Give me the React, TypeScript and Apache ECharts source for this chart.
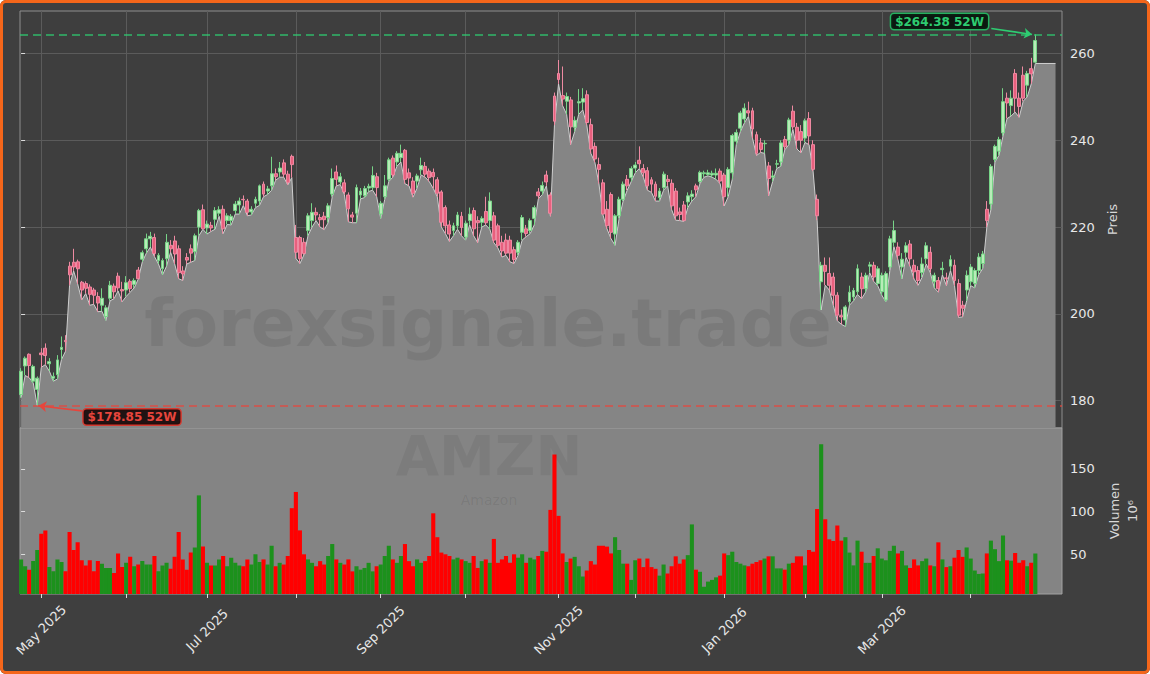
import React, { useEffect, useRef } from 'react';
import * as echarts from 'echarts';

// ---------- calendar ----------
const START_DATE = '2025-04-24';
const END_DATE = '2026-04-24';
const HOLIDAYS = ['2025-05-26', '2025-06-19', '2025-07-04', '2025-09-01', '2025-11-27', '2025-12-25', '2026-01-01', '2026-01-19', '2026-02-16', '2026-04-03'];
const MONTH_NAMES = ['Jan', 'Feb', 'Mar', 'Apr', 'May', 'Jun', 'Jul', 'Aug', 'Sep', 'Oct', 'Nov', 'Dec'];

function tradingDays(): string[] {
  const out: string[] = [];
  const d = new Date(START_DATE + 'T00:00:00Z');
  const end = new Date(END_DATE + 'T00:00:00Z');
  while (d <= end) {
    const wd = d.getUTCDay();
    const s = d.toISOString().slice(0, 10);
    if (wd !== 0 && wd !== 6 && HOLIDAYS.indexOf(s) < 0) out.push(s);
    d.setUTCDate(d.getUTCDate() + 1);
  }
  return out;
}
const DATES = tradingDays();

// ---------- prices (USD) ----------
const OPEN = [
  181.4, 188.0, 190.7, 184.5, 182.6, 191.0, 192.1, 188.5, 185.2, 186.0,
  191.8, 193.9, 211.0, 211.9, 212.0, 207.3, 207.0, 206.2, 205.5, 204.0,
  202.0, 199.4, 203.6, 206.4, 208.7, 205.6, 205.5, 207.5, 206.8, 210.1,
  212.6, 215.0, 217.3, 217.6, 212.3, 210.4, 212.7, 215.8, 216.8, 215.0,
  209.9, 213.0, 215.0, 214.3, 220.0, 224.0, 219.8, 220.4, 221.8, 223.2,
  224.1, 221.5, 221.5, 223.8, 225.1, 226.4, 226.0, 223.5, 225.5, 226.0,
  229.9, 228.3, 229.5, 232.3, 232.7, 234.8, 232.2, 236.3, 217.6, 217.6,
  216.5, 219.2, 221.5, 223.4, 222.2, 222.5, 222.2, 227.6, 232.7, 230.4,
  230.2, 227.4, 222.8, 223.2, 227.4, 227.2, 229.0, 229.1, 231.6, 223.0,
  227.0, 231.0, 235.9, 235.0, 236.0, 237.7, 232.5, 230.6, 230.6, 233.2,
  234.0, 232.9, 232.6, 230.9, 228.1, 224.5, 220.5, 219.2, 220.3, 222.5,
  217.7, 221.5, 223.8, 221.5, 221.1, 223.6, 221.5, 222.6, 220.3, 216.5,
  217.0, 217.0, 214.8, 214.2, 218.8, 219.6, 219.2, 222.0, 228.1, 228.3,
  232.0, 227.4, 250.2, 255.4, 250.3, 249.0, 249.3, 243.0, 248.6, 248.8,
  250.5, 243.6, 238.6, 234.4, 230.2, 224.1, 227.5, 218.4, 222.6, 226.4,
  231.0, 231.4, 233.6, 235.4, 233.5, 233.0, 230.9, 229.9, 226.8, 229.1,
  231.0, 230.1, 228.3, 223.5, 225.1, 225.8, 227.0, 229.5, 230.5, 232.3,
  232.1, 232.0, 232.0, 232.9, 232.0, 229.1, 232.5, 239.8, 242.8, 244.9,
  246.8, 246.8, 241.3, 239.4, 239.2, 234.1, 231.5, 234.5, 235.0, 240.2,
  240.0, 246.7, 243.0, 242.0, 240.5, 245.0, 239.0, 226.4, 207.4, 211.2,
  209.3, 208.5, 204.3, 199.6, 198.6, 202.8, 203.9, 205.1, 208.5, 205.8,
  211.0, 211.2, 207.0, 205.1, 203.2, 210.8, 216.5, 215.4, 210.8, 214.2,
  216.1, 211.2, 210.0, 209.5, 212.7, 214.2, 207.4, 207.7, 210.2, 208.3,
  211.0, 211.2, 207.0, 202.0, 205.5, 207.4, 207.0, 210.0, 211.6, 224.1,
  225.3, 235.6, 237.5, 241.7, 249.7, 248.0, 255.4, 249.7, 255.0, 252.7,
  256.5, 258.0,
];
const HIGH = [
  187.5, 190.2, 190.9, 188.3, 185.6, 192.1, 193.2, 189.8, 186.5, 190.5,
  194.8, 195.1, 212.0, 215.0, 212.5, 207.6, 207.5, 206.8, 206.0, 205.0,
  205.9, 202.0, 207.6, 207.0, 209.5, 207.4, 208.7, 208.0, 208.2, 210.8,
  214.6, 218.5, 218.9, 218.5, 214.0, 212.8, 218.4, 217.0, 218.0, 215.8,
  211.0, 214.0, 216.0, 218.5, 224.2, 225.2, 221.5, 221.2, 224.6, 224.8,
  225.0, 223.2, 223.0, 226.0, 226.8, 227.3, 226.5, 224.8, 227.0, 229.8,
  230.5, 229.5, 236.2, 233.5, 235.0, 235.6, 233.0, 236.7, 220.5, 218.0,
  217.5, 223.2, 225.5, 224.5, 223.0, 223.5, 225.5, 233.5, 234.2, 232.5,
  231.0, 228.0, 223.5, 229.8, 229.0, 229.5, 230.0, 234.0, 232.5, 226.0,
  232.0, 236.0, 236.5, 237.5, 239.0, 238.0, 233.5, 231.5, 232.3, 236.0,
  235.0, 233.5, 233.5, 231.5, 228.5, 225.0, 221.5, 221.0, 223.5, 223.5,
  221.5, 224.5, 224.5, 222.5, 222.5, 227.0, 228.0, 223.5, 220.8, 218.0,
  218.5, 218.0, 215.5, 217.0, 222.8, 220.5, 222.0, 225.0, 229.0, 230.5,
  233.0, 228.0, 251.0, 258.5, 257.0, 251.0, 250.0, 245.5, 251.8, 252.0,
  251.5, 245.0, 239.5, 236.0, 231.0, 226.0, 228.0, 223.0, 227.0, 230.5,
  232.0, 234.0, 235.0, 238.6, 234.5, 233.8, 231.5, 230.5, 229.0, 232.8,
  232.0, 231.0, 229.0, 224.5, 226.0, 228.0, 228.5, 230.0, 233.0, 233.0,
  233.2, 233.0, 233.5, 233.5, 232.5, 233.8, 241.5, 242.5, 246.8, 248.5,
  248.9, 247.5, 242.0, 240.5, 240.0, 235.0, 233.0, 235.5, 240.0, 241.0,
  245.2, 248.0, 244.0, 243.5, 245.0, 246.5, 240.0, 227.5, 212.0, 213.0,
  213.0, 209.5, 205.0, 201.0, 202.0, 206.5, 206.0, 211.4, 209.5, 209.5,
  212.0, 212.0, 211.0, 209.5, 209.8, 218.0, 221.5, 216.5, 214.0, 216.5,
  217.0, 212.5, 211.0, 213.0, 216.5, 215.5, 209.5, 208.5, 212.0, 209.5,
  213.5, 212.5, 208.0, 203.0, 210.0, 211.5, 210.5, 214.0, 214.5, 226.0,
  234.5, 239.0, 240.8, 252.0, 251.0, 251.5, 256.4, 251.0, 257.0, 256.0,
  259.0, 264.38,
];
const LOW = [
  180.7, 185.8, 185.3, 184.1, 178.85, 187.7, 188.3, 186.8, 184.5, 185.0,
  189.5, 191.4, 206.6, 209.9, 206.9, 203.2, 204.7, 202.0, 202.2, 200.5,
  200.6, 198.5, 203.0, 203.5, 205.3, 202.8, 204.0, 205.0, 206.0, 208.0,
  212.0, 214.0, 215.4, 213.2, 211.5, 209.0, 211.0, 214.2, 211.5, 208.1,
  207.7, 211.5, 211.9, 212.3, 218.0, 219.5, 218.4, 219.0, 219.5, 222.5,
  218.5, 220.6, 220.5, 223.0, 223.0, 225.0, 222.6, 222.8, 224.5, 225.0,
  227.0, 227.5, 228.5, 230.8, 231.5, 231.5, 229.7, 231.4, 212.8, 211.6,
  213.6, 218.0, 220.0, 221.5, 220.0, 219.4, 221.0, 227.0, 229.5, 229.8,
  227.5, 221.2, 221.0, 221.0, 226.5, 226.8, 228.2, 228.5, 227.0, 222.0,
  226.4, 230.5, 231.5, 234.0, 235.0, 230.0, 229.5, 226.9, 229.0, 232.0,
  231.5, 230.5, 228.9, 227.0, 220.0, 218.5, 216.7, 218.0, 219.5, 218.0,
  217.0, 220.5, 218.0, 216.4, 220.0, 220.5, 219.5, 216.4, 215.2, 213.1,
  213.5, 212.0, 211.6, 213.5, 217.0, 217.8, 218.5, 220.5, 226.5, 227.5,
  229.5, 222.5, 243.5, 253.0, 248.0, 246.0, 239.0, 242.0, 246.0, 247.0,
  243.5, 237.0, 234.9, 230.0, 222.8, 219.6, 217.3, 215.8, 222.0, 226.0,
  228.5, 230.5, 232.5, 233.5, 231.5, 228.5, 228.0, 226.0, 226.0, 228.5,
  229.5, 224.0, 221.6, 221.5, 221.3, 224.5, 226.0, 227.0, 230.0, 231.5,
  231.8, 231.5, 231.0, 230.0, 224.9, 227.0, 231.0, 239.0, 242.0, 244.0,
  245.5, 240.5, 236.5, 237.2, 237.0, 227.2, 230.5, 233.5, 234.0, 237.8,
  239.0, 242.5, 238.0, 237.1, 239.5, 239.0, 232.9, 221.6, 200.9, 206.6,
  205.5, 202.0, 198.4, 197.6, 197.1, 202.0, 203.0, 204.5, 203.5, 205.0,
  209.5, 207.5, 206.5, 204.3, 202.8, 210.0, 215.5, 212.5, 208.1, 213.0,
  211.0, 208.0, 206.6, 208.5, 211.5, 209.5, 206.0, 205.0, 209.0, 206.5,
  210.0, 206.5, 199.2, 199.3, 203.0, 206.5, 206.0, 209.0, 210.5, 220.0,
  224.0, 235.0, 236.5, 241.0, 245.0, 245.6, 246.5, 245.3, 249.0, 250.0,
  253.0, 257.7,
];
const CLOSE = [
  186.8, 189.8, 188.1, 187.9, 185.2, 190.6, 190.4, 189.0, 185.6, 189.4,
  192.3, 193.6, 209.0, 210.8, 210.4, 205.5, 205.9, 204.5, 204.3, 202.5,
  203.6, 201.4, 206.6, 205.1, 206.0, 205.3, 207.2, 205.8, 207.7, 208.1,
  214.1, 217.3, 217.9, 213.9, 213.5, 212.3, 216.5, 215.0, 213.8, 209.5,
  209.2, 212.4, 214.0, 218.0, 223.8, 219.6, 220.7, 219.8, 223.8, 224.0,
  219.6, 222.6, 222.5, 225.3, 226.0, 226.3, 223.4, 224.1, 226.4, 229.5,
  227.6, 228.8, 232.3, 231.6, 233.6, 232.2, 230.3, 234.4, 214.2, 212.7,
  213.9, 222.6, 223.4, 222.8, 221.7, 221.7, 224.9, 231.2, 231.0, 231.6,
  228.1, 224.2, 222.3, 229.1, 228.3, 228.9, 229.4, 231.9, 229.1, 225.5,
  229.5, 235.5, 232.0, 237.0, 237.0, 231.0, 231.3, 227.8, 231.8, 234.2,
  232.2, 231.4, 231.6, 227.8, 221.1, 220.3, 218.4, 220.3, 222.8, 219.9,
  220.9, 223.0, 219.6, 221.0, 222.0, 221.0, 226.0, 217.0, 215.8, 214.5,
  214.0, 214.0, 212.5, 216.5, 222.2, 218.5, 221.5, 224.5, 227.2, 229.6,
  230.4, 223.2, 244.4, 254.0, 249.5, 250.1, 243.1, 244.6, 248.9, 249.6,
  244.1, 238.0, 235.7, 233.3, 223.0, 220.3, 218.8, 222.6, 226.4, 229.9,
  229.5, 233.5, 234.3, 234.6, 232.5, 229.5, 229.9, 227.1, 228.3, 232.2,
  230.5, 224.9, 222.6, 222.9, 221.5, 227.2, 227.6, 228.6, 232.6, 232.5,
  232.5, 232.4, 232.4, 230.6, 227.0, 233.3, 241.1, 241.8, 246.3, 247.4,
  246.3, 242.6, 237.0, 237.9, 239.3, 231.2, 231.8, 234.6, 239.4, 238.5,
  244.7, 243.1, 240.0, 240.0, 244.5, 241.0, 233.3, 222.6, 211.2, 209.8,
  206.6, 204.3, 199.7, 199.3, 201.6, 205.0, 205.4, 210.4, 205.8, 208.9,
  211.3, 208.5, 210.4, 208.9, 209.3, 217.3, 219.2, 213.5, 212.6, 215.7,
  212.7, 209.7, 207.7, 211.5, 215.7, 210.4, 208.9, 205.8, 210.5, 208.1,
  212.5, 207.7, 199.7, 201.3, 208.9, 210.8, 210.0, 213.1, 213.8, 221.5,
  234.0, 238.6, 240.2, 248.9, 248.6, 249.7, 249.7, 247.8, 249.7, 255.4,
  255.3, 263.0,
];
// volume in millions of shares
const VOLUME = [
  44, 36, 32, 42, 55, 74, 78, 35, 30, 44,
  41, 30, 76, 55, 64, 43, 37, 43, 30, 42,
  39, 34, 34, 28, 51, 35, 40, 47, 36, 38,
  42, 38, 38, 48, 30, 37, 40, 33, 47, 76,
  44, 32, 52, 58, 119, 59, 40, 37, 37, 44,
  48, 36, 46, 40, 37, 36, 44, 38, 50, 41,
  44, 38, 60, 36, 40, 38, 48, 104, 123, 78,
  50, 44, 40, 36, 42, 38, 48, 62, 44, 40,
  38, 44, 30, 36, 32, 34, 40, 30, 36, 38,
  48, 60, 44, 40, 48, 62, 42, 36, 44, 40,
  42, 48, 98, 70, 52, 50, 48, 44, 46, 44,
  42, 40, 48, 34, 42, 44, 40, 68, 40, 44,
  48, 40, 50, 46, 50, 40, 46, 44, 48, 54,
  53, 102, 167, 95, 51, 41, 45, 47, 36, 24,
  31, 42, 38, 60, 60, 59, 51, 70, 55, 39,
  39, 20, 43, 45, 35, 45, 35, 33, 25, 38,
  27.5, 36, 47.6, 39, 44, 49, 85, 32, 29.5, 12,
  18, 20, 23, 25, 51, 49, 53, 41, 39, 37,
  36, 39, 41, 43, 45, 47.6, 47.6, 33.5, 33.5, 32,
  39, 40, 47.6, 47.6, 37, 55, 53, 103, 179, 91,
  67.5, 65.6, 83.7, 66, 70, 52, 37, 66, 53, 40,
  40, 48, 57, 45, 43, 54, 60, 51, 54, 37,
  34, 44, 37, 42, 45, 37, 36, 64, 44, 35,
  36, 46, 55, 47, 58, 45, 31, 27, 27.5, 51,
  66, 56, 42, 72, 43, 42.5, 51.5, 40, 43, 36,
  40, 51,
];
const PRICE_TICKS = [180, 200, 220, 240, 260];
const VOLUME_TICKS = [50, 100, 150];
const TICKER = 'AMZN';
const COMPANY = 'Amazon';
const WATERMARK = 'forexsignale.trade';

// ---------- derived ----------
const N = DATES.length;
const FONT = '"DejaVu Sans", "Liberation Sans", sans-serif';
const monthStarts: number[] = [];
DATES.forEach((d, i) => {
  if (i > 0 && d.slice(5, 7) !== DATES[i - 1].slice(5, 7)) monthStarts.push(i);
});
const labelStarts = monthStarts.filter((i) => parseInt(DATES[i].slice(5, 7), 10) % 2 === 1);
const fmtDate = (v: number) => {
  const d = DATES[Math.round(v)];
  if (!d) return '';
  return MONTH_NAMES[parseInt(d.slice(5, 7), 10) - 1] + ' ' + d.slice(0, 4);
};
let hiIdx = 0;
let loIdx = 0;
for (let i = 0; i < N; i++) {
  if (HIGH[i] > HIGH[hiIdx]) hiIdx = i;
  if (LOW[i] < LOW[loIdx]) loIdx = i;
}
const HI = HIGH[hiIdx];
const LO = LOW[loIdx];

const candleData = OPEN.map((o, i) => [i, o, CLOSE[i], LOW[i], HIGH[i]]);
const areaData: number[][] = LOW.map((l, i) => [i, l]);
areaData.push([N + 4, LOW[N - 1]]);
const volData = VOLUME.map((v, i) => ({
  value: [i, v],
  itemStyle: { color: CLOSE[i] >= OPEN[i] ? '#1c911c' : '#ff0000' },
}));

const GREEN = '#2ecc71';
const RED = '#e8453c';
const TXT = '#e8e8e8';

const option: any = {
  animation: false,
  backgroundColor: '#3f3f3f',
  textStyle: { fontFamily: FONT },
  grid: [
    { left: 20, top: 11, width: 1042, height: 417, show: true, backgroundColor: '#3e3e3e', borderColor: '#8e8e8e', borderWidth: 1 },
    { left: 20, top: 428, width: 1042, height: 166, show: true, backgroundColor: '#848484', borderColor: '#a2a2a2', borderWidth: 1 },
  ],
  xAxis: [
    {
      type: 'value', gridIndex: 0, min: -0.27, max: 257.6,
      axisLine: { show: false },
      axisTick: { show: false, customValues: monthStarts },
      axisLabel: { show: false, customValues: monthStarts },
      splitLine: { show: true, lineStyle: { color: '#5b5b5b', width: 1 } },
    },
    {
      type: 'value', gridIndex: 1, min: -0.27, max: 257.6,
      axisLine: { show: false },
      axisTick: { show: true, customValues: monthStarts, length: 4, lineStyle: { color: '#dcdcdc', width: 1 } },
      axisLabel: {
        customValues: labelStarts, rotate: 45, formatter: fmtDate, color: TXT, fontSize: 13, margin: 36,
        align: 'center', verticalAlign: 'middle', fontFamily: FONT,
      },
      splitLine: { show: false },
    },
  ],
  yAxis: [
    {
      type: 'value', gridIndex: 0, position: 'right', min: 173.71, max: 269.79,
      axisLine: { show: false },
      axisTick: { show: true, customValues: PRICE_TICKS, length: 4, lineStyle: { color: '#dcdcdc' } },
      axisLabel: { customValues: PRICE_TICKS, color: TXT, fontSize: 13, margin: 8, fontFamily: FONT },
      splitLine: { show: true, lineStyle: { color: '#5b5b5b', width: 1 } },
      name: 'Preis', nameLocation: 'middle', nameRotate: 90, nameGap: 38,
      nameTextStyle: { color: '#d8d8d8', fontSize: 13, fontFamily: FONT },
    },
    {
      type: 'value', gridIndex: 1, position: 'right', min: 3.5, max: 197.9,
      axisLine: { show: false },
      axisTick: { show: true, customValues: VOLUME_TICKS, length: 4, lineStyle: { color: '#dcdcdc' } },
      axisLabel: { customValues: VOLUME_TICKS, color: TXT, fontSize: 13, margin: 8, fontFamily: FONT },
      splitLine: { show: false },
      name: 'Volumen\n10⁶', nameLocation: 'middle', nameRotate: 90, nameGap: 28,
      nameTextStyle: { color: '#d8d8d8', fontSize: 13, lineHeight: 18, fontFamily: FONT },
    },
  ],
  series: [
    {
      type: 'line', xAxisIndex: 0, yAxisIndex: 0, data: areaData, showSymbol: false, silent: true, z: 2,
      lineStyle: { color: '#cfcfcf', width: 1 },
      areaStyle: { color: '#858585', opacity: 1 },
    },
    {
      type: 'candlestick', xAxisIndex: 0, yAxisIndex: 0, data: candleData, barWidth: 3.4, z: 3,
      itemStyle: { color: '#b8ecb8', color0: '#e8607e', borderColor: '#78d488', borderColor0: '#ee8aa2', borderWidth: 1 },
      markLine: {
        silent: true, symbol: ['none', 'none'], label: { show: false }, z: 6,
        data: [
          { yAxis: HI, lineStyle: { color: GREEN, type: [8, 5], width: 1.5, opacity: 0.85 } },
          { yAxis: LO, lineStyle: { color: RED, type: [8, 5], width: 1.5, opacity: 0.85 } },
          [
            { coord: [240.1, 265.76], symbol: 'none', lineStyle: { color: GREEN, width: 1.6, type: 'solid' } },
            { coord: [hiIdx - 0.8, HI], symbol: 'arrow', symbolSize: 8 },
          ],
          [
            { coord: [15.1, 177.65], symbol: 'none', lineStyle: { color: RED, width: 1.6, type: 'solid' } },
            { coord: [loIdx + 0.3, LO], symbol: 'arrow', symbolSize: 8 },
          ],
        ],
      },
      markPoint: {
        silent: true, symbol: 'rect', symbolSize: 2, itemStyle: { color: 'rgba(0,0,0,0)' }, z: 7,
        data: [
          {
            coord: [227.3, 267.37],
            label: {
              show: true, position: 'inside', formatter: '$' + HI.toFixed(2) + ' 52W',
              color: GREEN, fontWeight: 'bold', fontSize: 12, fontFamily: FONT,
              backgroundColor: 'rgba(8,20,12,0.92)', borderColor: '#27b060', borderWidth: 1.5, borderRadius: 3, padding: [2, 4, 1, 4],
            },
          },
          {
            coord: [27.45, 176.24],
            label: {
              show: true, position: 'inside', formatter: '$' + LO.toFixed(2) + ' 52W',
              color: RED, fontWeight: 'bold', fontSize: 12, fontFamily: FONT,
              backgroundColor: 'rgba(24,10,10,0.92)', borderColor: '#d33a30', borderWidth: 1.5, borderRadius: 3, padding: [2, 4, 1, 4],
            },
          },
        ],
      },
    },
    {
      type: 'bar', xAxisIndex: 1, yAxisIndex: 1, data: volData, barWidth: 4.1, z: 3,
    },
  ],
  graphic: [
    {
      type: 'text', x: 488, y: 323, z: 50, silent: true,
      style: { text: WATERMARK, align: 'center', verticalAlign: 'middle', font: 'bold 66px "DejaVu Sans"', fill: 'rgba(0,0,0,0.08)' },
    },
    {
      type: 'text', x: 489, y: 455, z: 50, silent: true,
      style: { text: TICKER, align: 'center', verticalAlign: 'middle', font: 'bold 56px "DejaVu Sans"', fill: 'rgba(0,0,0,0.06)' },
    },
    {
      type: 'text', x: 489, y: 500, z: 50, silent: true,
      style: { text: COMPANY, align: 'center', verticalAlign: 'middle', font: '14px "DejaVu Sans"', fill: 'rgba(0,0,0,0.08)' },
    },
  ],
};

export default function App() {
  const ref = useRef<HTMLDivElement>(null);
  useEffect(() => {
    document.body.style.margin = '0';
    const chart = echarts.init(ref.current!, null, { renderer: 'svg' });
    chart.setOption(option);
    return () => chart.dispose();
  }, []);
  return (
    <div style={{ position: 'relative', width: 1150, height: 674, background: '#ffffff' }}>
      <div style={{ position: 'absolute', left: 0, top: 0, width: 1150, height: 674, borderRadius: 6, overflow: 'hidden' }}>
        <div ref={ref} style={{ width: 1150, height: 674 }} />
      </div>
      <div
        style={{
          position: 'absolute', left: 0, top: 0, width: 1150, height: 674, boxSizing: 'border-box',
          border: '3px solid #f5661a', borderRadius: 6, pointerEvents: 'none',
        }}
      />
    </div>
  );
}
